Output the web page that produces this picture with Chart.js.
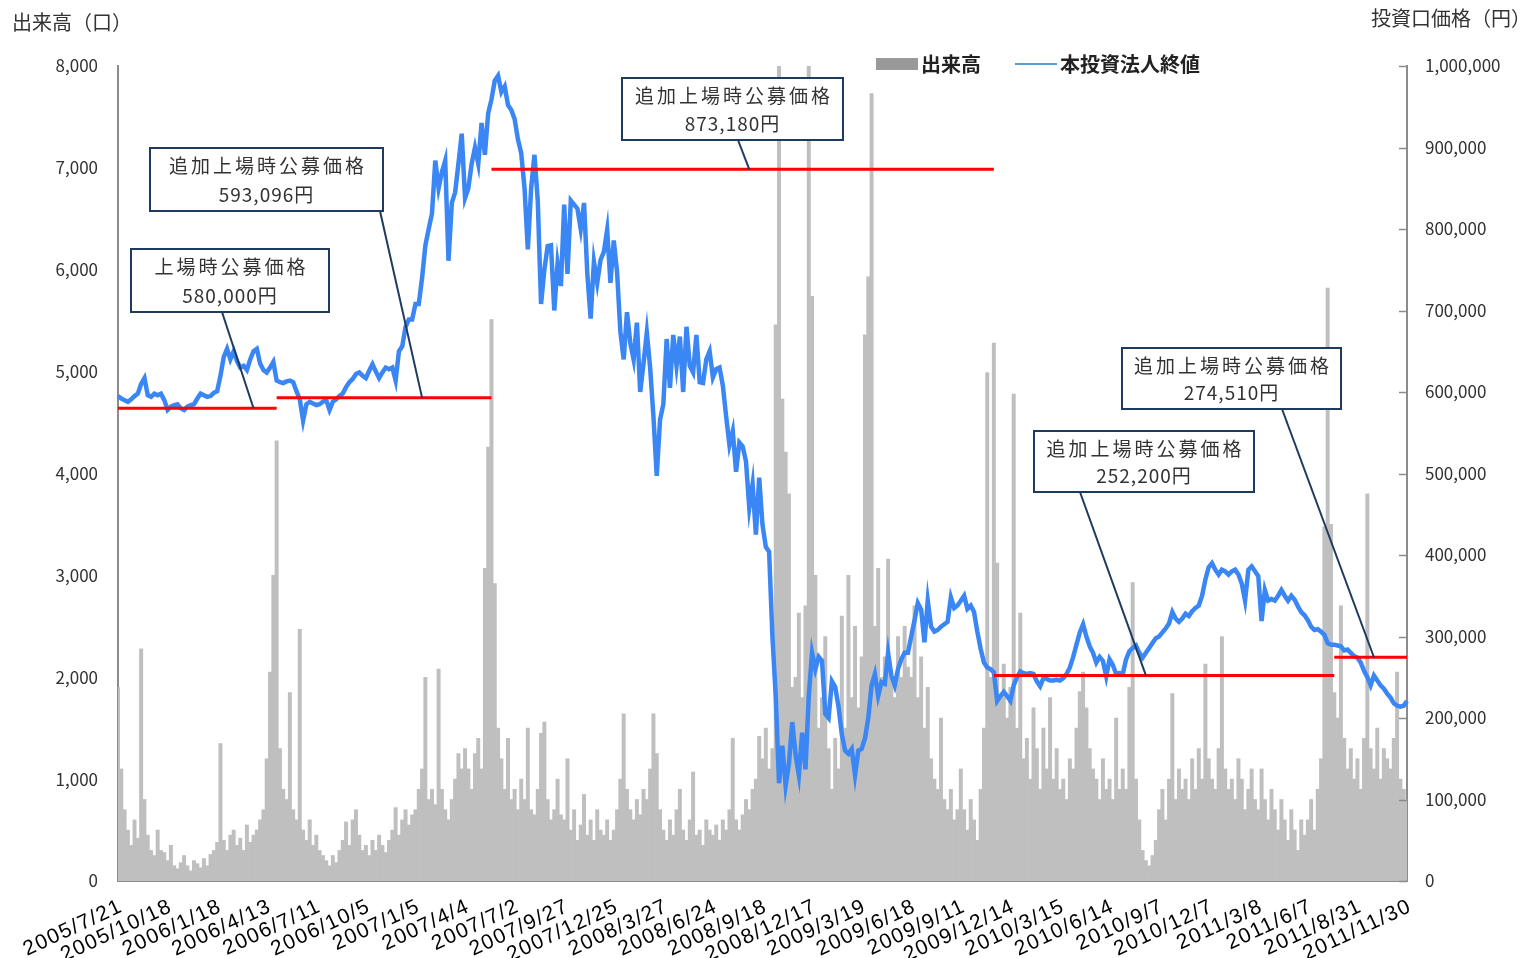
<!DOCTYPE html>
<html lang="ja">
<head>
<meta charset="UTF-8">
<title>出来高・投資口価格の推移</title>
<script src="https://cdn.jsdelivr.net/npm/chart.js"></script>
<style>
  body { margin: 0; background: #fff; }
  #wrap { width: 1525px; height: 958px; }
</style>
</head>
<body>
<div id="wrap">
  <canvas id="grafico" width="1525" height="958"></canvas>
</div>

<script>
// 目盛ラベル(15本ごとに1つ表示)
const datas = [
  '2005/7/21', '2005/10/18', '2006/1/18', '2006/4/13', '2006/7/11', '2006/10/5',
  '2007/1/5', '2007/4/4', '2007/7/2', '2007/9/27', '2007/12/25', '2008/3/27',
  '2008/6/24', '2008/9/18', '2008/12/17', '2009/3/19', '2009/6/18', '2009/9/11',
  '2009/12/14', '2010/3/15', '2010/6/14', '2010/9/7', '2010/12/7', '2011/3/8',
  '2011/6/7', '2011/8/31', '2011/11/30'
];
const passo = 15;

// 本投資法人終値(千円)
const precoMil = [
  595, 592, 590, 588, 591, 595, 598, 610, 617, 596, 594, 598, 596, 598, 590,
  578, 582, 584, 585, 580, 578, 582, 584, 585, 592, 598, 596, 594, 595, 599,
  601, 620, 643, 653, 640, 650, 638, 630, 632, 627, 640, 650, 653, 635, 627,
  624, 630, 637, 614, 612, 611, 613, 614, 612, 601, 591, 565, 585, 588, 586,
  584, 585, 588, 590, 578, 588, 591, 595, 598, 606, 612, 616, 622, 624, 620,
  617, 626, 634, 625, 617, 624, 630, 628, 630, 614, 650, 656, 680, 689, 689,
  708, 708, 740, 780, 800, 819, 884, 850, 870, 884, 761, 832, 845, 880, 917,
  838, 850, 880, 900, 880, 930, 891, 942, 959, 982, 988, 968, 975, 952, 946,
  935, 910, 893, 850, 775, 850, 891, 835, 708, 750, 779, 780, 700, 758, 730,
  830, 745, 835, 830, 825, 800, 832, 745, 690, 760, 734, 762, 772, 799, 734,
  786, 747, 674, 640, 698, 660, 640, 685, 600, 635, 673, 630, 570, 497, 566,
  585, 665, 605, 670, 632, 668, 600, 680, 632, 624, 670, 612, 611, 640, 650,
  618, 628, 630, 608, 570, 535, 552, 502, 538, 533, 515, 458, 487, 425, 495,
  437, 410, 404, 300, 227, 120, 166, 117, 144, 195, 155, 130, 182, 137, 227,
  280, 260, 275, 270, 205, 200, 245, 238, 214, 180, 160, 156, 162, 130, 160,
  162, 175, 200, 240, 254, 227, 244, 242, 280, 252, 240, 260, 272, 280, 280,
  300, 320, 341, 333, 293, 344, 312, 306, 308, 312, 315, 318, 348, 335, 338,
  344, 350, 334, 338, 330, 306, 285, 268, 262, 260, 256, 221, 227, 232, 227,
  221, 240, 250, 257, 255, 254, 255, 254, 245, 239, 249, 248, 246, 246, 247,
  246, 249, 254, 262, 275, 290, 305, 315, 300, 288, 280, 268, 275, 270, 251,
  272, 265, 254, 255, 254, 272, 282, 286, 289, 280, 274, 280, 286, 292, 298,
  300, 305, 310, 316, 330, 322, 318, 322, 328, 325, 331, 335, 338, 350, 370,
  385, 390, 382, 376, 382, 380, 376, 380, 382, 376, 365, 344, 382, 386, 380,
  374, 319, 357, 344, 346, 344, 350, 357, 350, 344, 350, 345, 337, 330, 326,
  320, 312, 308, 309, 306, 302, 292, 290, 290, 289, 288, 283, 284, 280, 276,
  274, 268, 258, 250, 240, 252, 246, 240, 236, 230, 225, 218, 215, 214, 215,
  221
];

// 出来高(口)
const volume = [
  1900, 1100, 700, 500, 350, 600, 420, 2280, 800, 450, 300, 250, 500, 300, 280,
  200, 350, 150, 120, 180, 250, 150, 100, 200, 170, 130, 220, 150, 260, 300,
  380, 1350, 400, 300, 450, 500, 350, 420, 300, 550, 380, 450, 500, 600, 700,
  1200, 2050, 3000, 4320, 1300, 900, 800, 1850, 700, 600, 2470, 500, 400, 600, 350,
  450, 300, 250, 200, 150, 250, 180, 300, 400, 580, 350, 600, 700, 450, 300,
  350, 250, 400, 300, 450, 350, 280, 400, 500, 720, 450, 600, 700, 550, 650,
  700, 900, 1100, 2000, 800, 900, 750, 2080, 900, 700, 600, 800, 1000, 1250, 1100,
  1300, 1100, 900, 1250, 1400, 1100, 3070, 4260, 5510, 2920, 1500, 1200, 900, 1400, 800,
  900, 700, 1000, 800, 1500, 700, 650, 900, 1450, 1560, 800, 600, 700, 1000, 650,
  600, 1200, 500, 700, 400, 550, 850, 450, 600, 400, 700, 500, 450, 600, 400,
  500, 700, 1000, 1640, 900, 700, 600, 800, 650, 900, 800, 1100, 1640, 1250, 700,
  500, 400, 600, 450, 700, 900, 500, 400, 600, 1070, 450, 500, 350, 600, 500,
  450, 550, 400, 600, 500, 700, 1400, 600, 500, 650, 800, 700, 900, 1000, 1420,
  1200, 1500, 1100, 1300, 5460, 8500, 4730, 4210, 3800, 1900, 2000, 2630, 1800, 2700, 8500,
  5740, 3000, 1500, 1800, 2400, 1300, 900, 1400, 1100, 2600, 1500, 3000, 1800, 2500, 1700,
  2200, 5360, 5930, 7730, 2500, 3070, 2000, 2200, 3160, 2000, 1800, 2400, 2000, 2500, 2100,
  2000, 2700, 1800, 2200, 1500, 1900, 1200, 1000, 900, 1600, 800, 700, 900, 600, 700,
  1100, 700, 500, 800, 600, 400, 900, 1500, 4990, 2000, 5280, 3120, 1800, 2130, 1600,
  1900, 4780, 1500, 2630, 1200, 1400, 1000, 1700, 1300, 900, 1500, 1100, 1800, 1000, 1300,
  900, 1000, 800, 1200, 1100, 1500, 1860, 2050, 1700, 1300, 1100, 1000, 800, 1200, 900,
  1000, 800, 1600, 900, 1100, 900, 1900, 2930, 1000, 600, 300, 200, 150, 250, 400,
  700, 900, 600, 1000, 1840, 800, 1100, 900, 1000, 800, 1200, 900, 1300, 1000, 2130,
  1200, 1000, 900, 1300, 2400, 1100, 900, 1000, 800, 1200, 1000, 700, 900, 1100, 800,
  700, 1100, 800, 600, 900, 700, 500, 800, 600, 400, 700, 500, 300, 600, 450,
  600, 800, 500, 900, 1200, 3480, 5820, 3500, 1850, 1600, 2700, 1400, 1100, 1300, 1000,
  1200, 900, 1400, 3800, 1300, 1100, 1500, 1000, 1300, 1200, 1100, 1400, 2050, 1000, 900,
  800
];

// 公募価格(円)と適用期間(データ番号)
const kouboKakaku = [580000, 593096, 873180, 252200, 274510];
const kouboInicio = [0, 48, 113, 265, 368];
const kouboFim = [48, 113, 265, 368, 390];
const kouboNome = ['上場時公募価格', '追加上場時公募価格', '追加上場時公募価格', '追加上場時公募価格', '追加上場時公募価格'];
// 引出線の先(データ番号)
const kouboAlvo = [41, 92, 191, 311, 380];

const labels = precoMil.map((_, i) => (i % passo === 0 ? datas[i / passo] : ''));
const preco = precoMil.map(v => v * 1000);

const fonte = '"Noto Sans CJK JP", "Noto Sans", sans-serif';
const fonteData = '"Liberation Sans", Arial, sans-serif';
const fmt = v => Number(v).toLocaleString('en-US');

const linhasVermelhas = kouboKakaku.map((p, k) => ({
  type: 'line',
  label: 'koubo' + k,
  data: labels.map((_, i) => (i >= kouboInicio[k] && i <= kouboFim[k] ? p : null)),
  yAxisID: 'y1',
  borderColor: '#ff0000',
  borderWidth: 3,
  pointRadius: 0,
  spanGaps: false,
  order: 0
}));

// 注記ボックスの配置
const caixas = [
  { x: 131, y: 249, w: 198, h: 63, sx: 222, sy: 312 },
  { x: 150, y: 148, w: 233, h: 63, sx: 380, sy: 211 },
  { x: 622, y: 78, w: 221, h: 62, sx: 738, sy: 140 },
  { x: 1034, y: 431, w: 220, h: 61, sx: 1080, sy: 492 },
  { x: 1122, y: 348, w: 219, h: 61, sx: 1282, sy: 409 }
];

const extras = {
  id: 'extras',
  afterDraw(chart) {
    const ctx = chart.ctx;
    const xs = chart.scales.x, y1 = chart.scales.y1;
    const area = chart.chartArea;
    ctx.save();

    // 右軸の内向き目盛
    ctx.strokeStyle = '#8c8c8c';
    ctx.lineWidth = 1.5;
    for (let v = 0; v <= 1000000; v += 100000) {
      const py = Math.round(y1.getPixelForValue(v)) + 0.5;
      ctx.beginPath();
      ctx.moveTo(area.right - 8, py);
      ctx.lineTo(area.right, py);
      ctx.stroke();
    }

    // 日付ラベル(斜め)
    ctx.fillStyle = '#000';
    ctx.font = '21px ' + fonteData;
    ctx.letterSpacing = '1.5px';
    ctx.textAlign = 'right';
    ctx.textBaseline = 'top';
    datas.forEach((d, k) => {
      const px = xs.getPixelForValue(k * passo);
      ctx.save();
      ctx.translate(px - 1, area.bottom + 15);
      ctx.rotate(-25 * Math.PI / 180);
      ctx.fillText(d, 0, 0);
      ctx.restore();
    });
    ctx.letterSpacing = '0px';

    // 軸タイトル
    ctx.fillStyle = '#333';
    ctx.font = '20px ' + fonte;
    ctx.textBaseline = 'middle';
    ctx.textAlign = 'left';
    ctx.fillText('出来高（口）', 12, 22);
    ctx.textAlign = 'right';
    ctx.fillText('投資口価格（円）', 1531, 18);

    // 凡例
    ctx.fillStyle = '#999';
    ctx.fillRect(876, 58, 42, 12);
    ctx.strokeStyle = '#5b9bd5';
    ctx.lineWidth = 2;
    ctx.beginPath();
    ctx.moveTo(1015, 64);
    ctx.lineTo(1057, 64);
    ctx.stroke();
    ctx.fillStyle = '#222';
    ctx.font = 'bold 20px ' + fonte;
    ctx.textAlign = 'left';
    ctx.fillText('出来高', 921, 64);
    ctx.fillText('本投資法人終値', 1060, 64);

    // 公募価格の注記
    caixas.forEach((c, k) => {
      const tx = xs.getPixelForValue(kouboAlvo[k]);
      const ty = y1.getPixelForValue(kouboKakaku[k]);
      ctx.strokeStyle = '#1f3a5f';
      ctx.lineWidth = 2;
      ctx.beginPath();
      ctx.moveTo(c.sx, c.sy);
      ctx.lineTo(tx, ty);
      ctx.stroke();

      ctx.fillStyle = '#fff';
      ctx.fillRect(c.x, c.y, c.w, c.h);
      ctx.strokeRect(c.x, c.y, c.w, c.h);

      ctx.fillStyle = '#333';
      ctx.textAlign = 'center';
      ctx.font = '19px ' + fonte;
      ctx.letterSpacing = '3px';
      ctx.fillText(kouboNome[k], c.x + c.w / 2 + 1.5, c.y + c.h * 0.29);
      ctx.letterSpacing = '1px';
      ctx.fillText(fmt(kouboKakaku[k]) + '円', c.x + c.w / 2, c.y + c.h * 0.74);
      ctx.letterSpacing = '0px';
    });

    ctx.restore();
  }
};

new Chart(document.getElementById('grafico'), {
  type: 'bar',
  data: {
    labels: labels,
    datasets: [
      ...linhasVermelhas,
      {
        type: 'line',
        label: '本投資法人終値',
        data: preco,
        yAxisID: 'y1',
        borderColor: '#3a86f4',
        borderWidth: 4.5,
        pointRadius: 0,
        tension: 0,
        order: 1
      },
      {
        type: 'bar',
        label: '出来高',
        data: volume,
        yAxisID: 'y',
        backgroundColor: '#bfbfbf',
        barPercentage: 1,
        categoryPercentage: 1,
        order: 2
      }
    ]
  },
  options: {
    responsive: false,
    animation: false,
    layout: { padding: { top: 66, left: 0, right: 0, bottom: 0 } },
    plugins: {
      legend: { display: false },
      tooltip: { enabled: false }
    },
    scales: {
      x: {
        offset: false,
        grid: { display: false, drawTicks: false },
        border: { display: true, color: '#8c8c8c', width: 2 },
        ticks: { display: false },
        afterFit: s => { s.height = 77; }
      },
      y: {
        position: 'left',
        min: 0,
        max: 8000,
        grid: { display: false, drawTicks: false },
        border: { display: true, color: '#8c8c8c', width: 2 },
        ticks: {
          stepSize: 1000,
          padding: 20,
          color: '#333',
          font: { family: fonte, size: 17 },
          callback: v => fmt(v)
        },
        afterFit: s => { s.width = 118; }
      },
      y1: {
        position: 'right',
        min: 0,
        max: 1000000,
        grid: { display: false, drawTicks: false },
        border: { display: true, color: '#8c8c8c', width: 2 },
        ticks: {
          stepSize: 100000,
          padding: 18,
          color: '#333',
          font: { family: fonte, size: 17 },
          callback: v => fmt(v)
        },
        afterFit: s => { s.width = 118; }
      }
    }
  },
  plugins: [extras]
});
</script>
</body>
</html>
